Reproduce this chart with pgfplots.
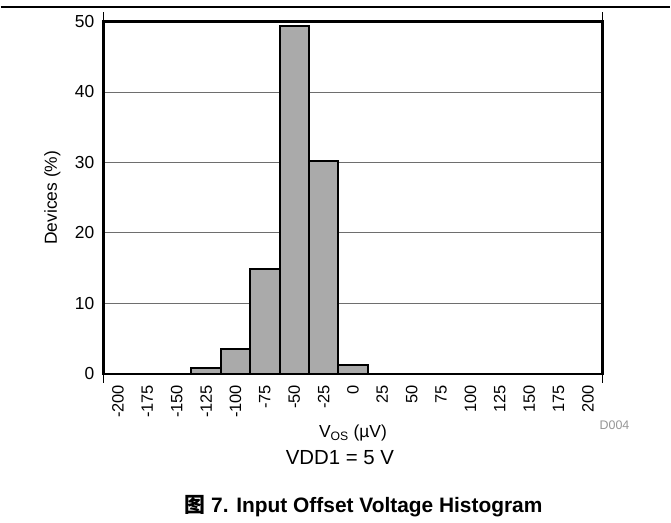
\documentclass[border=0pt]{standalone}
\usepackage{fontspec}
\setmainfont{Liberation Sans}
\newfontfamily\cjk{Noto Sans CJK SC}
\usepackage{pgfplots}
\pgfplotsset{compat=1.18}
\definecolor{barfill}{RGB}{170,170,170}
\definecolor{gridc}{RGB}{110,110,110}
\definecolor{dgray}{RGB}{150,150,150}
\begin{document}
\begin{tikzpicture}
\begin{axis}[
  at={(0,0)}, anchor=south west,
  scale only axis, width=500bp, height=353bp,
  xmin=-0.5, xmax=16.5, ymin=0, ymax=50,
  axis line style={line width=2.4bp, black},
  xtick={0,...,16},
  xticklabels={-200,-175,-150,-125,-100,-75,-50,-25,0,25,50,75,100,125,150,175,200},
  xticklabel style={yshift=-11bp, rotate=90, anchor=east, inner sep=0pt, font=\fontsize{16.5}{17}\selectfont},
  ytick={0,10,20,30,40,50},
  yticklabel style={inner sep=0pt, xshift=-9bp, font=\fontsize{17.5}{18}\selectfont},
  /pgf/number format/assume math mode=true,
  major tick length=0pt,
  ymajorgrids, grid style={gridc, line width=0.9bp},
  extra x ticks={-0.5,16.5}, extra x tick labels={},
  extra x tick style={major tick length=9bp, tick align=outside, xmajorgrids=false, ymajorgrids=false,
     tick style={line width=0.8bp, black}},
  clip=false,
]
\addplot[ybar, bar width=1, fill=barfill, draw=black, line width=2bp]
  coordinates {(3,0.9) (4,3.6) (5,14.9) (6,49.3) (7,30.2) (8,1.2)};
\end{axis}
\node[rotate=90, font=\fontsize{17.5}{18}\selectfont] at (-51bp,176.5bp) {Devices (\%)};
\node[anchor=base, font=\fontsize{17.5}{18}\selectfont] at (250bp,-63.8bp) {V\textsubscript{OS} (µV)};
\node[anchor=base, font=\fontsize{20.5}{21}\selectfont] at (237bp,-91.2bp) {VDD1 = 5 V};
\node[anchor=base, text=dgray, font=\fontsize{12.5}{13}\selectfont] at (512bp,-56bp) {D004};
\node[anchor=base, font=\fontsize{21}{22}\selectfont\bfseries] at (260.5bp,-138.5bp) {{\cjk 图} 7. Input Offset Voltage Histogram};
\draw[line width=1.1bp] (-103bp,367.5bp) -- (568bp,367.5bp);
\path[use as bounding box] (-103bp,-148.5bp) rectangle (568bp,374.5bp);
\end{tikzpicture}
\end{document}
